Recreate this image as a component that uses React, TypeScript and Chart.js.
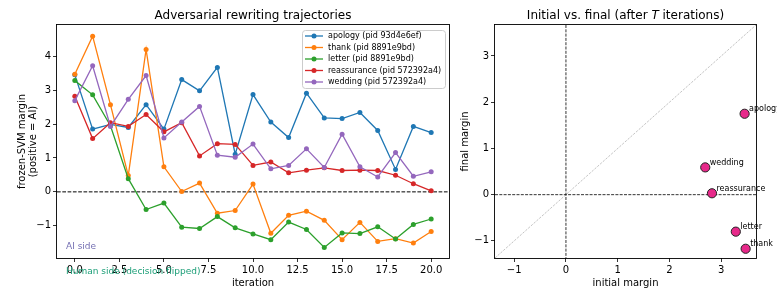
import React, { useEffect, useRef } from 'react';
import { Chart, registerables } from 'chart.js';
Chart.register(...registerables);

const FONT = '"DejaVu Sans", sans-serif';

const iterations = [0, 1, 2, 3, 4, 5, 6, 7, 8, 9, 10, 11, 12, 13, 14, 15, 16, 17, 18, 19, 20];
const names = ['apology', 'thank', 'letter', 'reassurance', 'wedding'];
const pids = ['93d4e6ef', '8891e9bd', '8891e9bd', '572392a4', '572392a4'];
const colors = ['#1f77b4', '#ff7f0e', '#2ca02c', '#d62728', '#9467bd'];

const apology = [3.45, 1.85, 1.99, 1.90, 2.57, 1.85, 3.31, 2.98, 3.67, 1.11, 2.87, 2.06, 1.60, 2.91, 2.18, 2.16, 2.34, 1.81, 0.66, 1.93, 1.75];
const thank = [3.47, 4.59, 2.57, 0.48, 4.20, 0.74, 0.01, 0.26, -0.63, -0.55, 0.23, -1.22, -0.69, -0.57, -0.84, -1.41, -0.90, -1.46, -1.38, -1.51, -1.17];
const letter = [3.28, 2.86, 1.95, 0.39, -0.52, -0.33, -1.04, -1.08, -0.73, -1.06, -1.24, -1.41, -0.89, -1.11, -1.64, -1.21, -1.23, -1.03, -1.39, -0.96, -0.80];
const reassurance = [2.82, 1.57, 2.04, 1.93, 2.28, 1.77, 2.04, 1.06, 1.42, 1.40, 0.78, 0.88, 0.56, 0.64, 0.71, 0.63, 0.64, 0.63, 0.49, 0.24, 0.03];
const wedding = [2.69, 3.72, 1.93, 2.73, 3.43, 1.59, 2.06, 2.52, 1.08, 1.02, 1.41, 0.68, 0.78, 1.27, 0.72, 1.70, 0.74, 0.44, 1.16, 0.46, 0.59];
const series = [apology, thank, letter, reassurance, wedding];

const leftXTicks = [0, 2.5, 5, 7.5, 10, 12.5, 15, 17.5, 20];
const leftYTicks = [-1, 0, 1, 2, 3, 4];
const rightTicks = [-1, 0, 1, 2, 3];

const initial = series.map((s) => s[0]);
const final = series.map((s) => s[s.length - 1]);
const allVals = [...initial, ...final];
const lo = Math.min(...allVals) - 0.2;
const hi = Math.max(...allVals) + 0.2;

const fmtMinus = (v: number, d = 0) => (v < 0 ? '\u2212' + Math.abs(v).toFixed(d) : v.toFixed(d));

const tickFont = { family: FONT, size: 10 };

function spines(ctx: CanvasRenderingContext2D, a: any) {
  ctx.save();
  ctx.strokeStyle = '#000';
  ctx.lineWidth = 0.9;
  ctx.setLineDash([]);
  ctx.strokeRect(Math.round(a.left) - 0.5, Math.round(a.top) - 0.5, Math.round(a.right - a.left) + 1, Math.round(a.bottom - a.top) + 1);
  ctx.restore();
}

const leftPlugin = {
  id: 'leftDecor',
  beforeDatasetsDraw(chart: any) {
    const { ctx, chartArea: a, scales } = chart;
    const py = scales.y.getPixelForValue(0);
    ctx.save();
    ctx.strokeStyle = '#000';
    ctx.lineWidth = 1;
    ctx.setLineDash([3.7, 1.6]);
    ctx.beginPath();
    ctx.moveTo(a.left, py);
    ctx.lineTo(a.right, py);
    ctx.stroke();
    ctx.restore();
  },
  afterDatasetsDraw(chart: any) {
    const { ctx, chartArea: a } = chart;
    const bw = 143, bh = 58;
    const bx = a.right - bw - 4, by = a.top + 5;
    ctx.save();
    ctx.beginPath();
    (ctx as any).roundRect(bx + 0.5, by + 0.5, bw, bh, 3);
    ctx.fillStyle = 'rgba(255,255,255,0.8)';
    ctx.fill();
    ctx.strokeStyle = '#cccccc';
    ctx.lineWidth = 1;
    ctx.stroke();
    ctx.font = `8px ${FONT}`;
    ctx.textBaseline = 'middle';
    ctx.textAlign = 'left';
    names.forEach((n, i) => {
      const yy = by + 6 + i * 11.5;
      ctx.strokeStyle = colors[i];
      ctx.lineWidth = 1.3;
      ctx.beginPath();
      ctx.moveTo(bx + 3, yy);
      ctx.lineTo(bx + 21, yy);
      ctx.stroke();
      ctx.fillStyle = colors[i];
      ctx.beginPath();
      ctx.arc(bx + 12, yy, 2.5, 0, Math.PI * 2);
      ctx.fill();
      ctx.fillStyle = '#000';
      ctx.fillText(`${n} (pid ${pids[i]})`, bx + 26, yy);
    });
    ctx.restore();
  },
  afterDraw(chart: any) {
    const { ctx, chartArea: a } = chart;
    spines(ctx, a);
    ctx.save();
    ctx.fillStyle = '#000';
    ctx.font = `12px ${FONT}`;
    ctx.textAlign = 'center';
    ctx.textBaseline = 'alphabetic';
    ctx.fillText('Adversarial rewriting trajectories', (a.left + a.right) / 2, 19);
    ctx.font = `9px ${FONT}`;
    ctx.textAlign = 'left';
    ctx.fillStyle = '#7570b3';
    ctx.fillText('AI side', a.left + 9, a.bottom - 9);
    ctx.fillStyle = '#1b9e77';
    ctx.fillText('Human side (decision flipped)', a.left + 9, a.bottom + 16);
    ctx.restore();
  },
};

const rightPlugin = {
  id: 'rightDecor',
  beforeDatasetsDraw(chart: any) {
    const { ctx, chartArea: a, scales } = chart;
    const { x, y } = scales;
    ctx.save();
    ctx.beginPath();
    ctx.rect(a.left, a.top, a.right - a.left, a.bottom - a.top);
    ctx.clip();
    ctx.strokeStyle = '#808080';
    ctx.lineWidth = 0.8;
    ctx.setLineDash([0.8, 1.3]);
    ctx.beginPath();
    ctx.moveTo(x.getPixelForValue(lo), y.getPixelForValue(lo));
    ctx.lineTo(x.getPixelForValue(hi), y.getPixelForValue(hi));
    ctx.stroke();
    ctx.strokeStyle = '#000';
    ctx.setLineDash([3, 1.3]);
    const px = x.getPixelForValue(0);
    const py = y.getPixelForValue(0);
    ctx.beginPath();
    ctx.moveTo(px, a.top);
    ctx.lineTo(px, a.bottom);
    ctx.moveTo(a.left, py);
    ctx.lineTo(a.right, py);
    ctx.stroke();
    ctx.restore();
  },
  afterDatasetsDraw(chart: any) {
    const { ctx, scales } = chart;
    ctx.save();
    ctx.font = `8px ${FONT}`;
    ctx.fillStyle = '#000';
    ctx.textAlign = 'left';
    ctx.textBaseline = 'alphabetic';
    names.forEach((n, i) => {
      const px = scales.x.getPixelForValue(initial[i]);
      const py = scales.y.getPixelForValue(final[i]);
      ctx.fillText(n, px + 4.5, py - 2.5);
    });
    ctx.restore();
  },
  afterDraw(chart: any) {
    const { ctx, chartArea: a } = chart;
    spines(ctx, a);
    ctx.save();
    ctx.fillStyle = '#000';
    ctx.textBaseline = 'alphabetic';
    ctx.textAlign = 'left';
    const p1 = 'Initial vs. final (after ';
    const p2 = 'T';
    const p3 = ' iterations)';
    const nf = `12px ${FONT}`;
    const itf = `italic 12px ${FONT}`;
    ctx.font = nf;
    const w1 = ctx.measureText(p1).width;
    const w3 = ctx.measureText(p3).width;
    ctx.font = itf;
    const w2 = ctx.measureText(p2).width;
    let sx = (a.left + a.right) / 2 - (w1 + w2 + w3) / 2;
    ctx.font = nf;
    ctx.fillText(p1, sx, 19);
    sx += w1;
    ctx.font = itf;
    ctx.fillText(p2, sx, 19);
    sx += w2;
    ctx.font = nf;
    ctx.fillText(p3, sx, 19);
    ctx.restore();
  },
};

function axisCommon(ticks: number[], decimals: number) {
  return {
    type: 'linear' as const,
    afterBuildTicks: (s: any) => {
      s.ticks = ticks.map((v) => ({ value: v }));
    },
    ticks: {
      font: tickFont,
      color: '#000',
      padding: 2,
      maxRotation: 0,
      autoSkip: false,
      callback: (v: any) => fmtMinus(Number(v), decimals),
    },
    grid: { drawOnChartArea: false, drawTicks: true, tickLength: 4, color: '#000', lineWidth: 0.8 },
    border: { display: false },
  };
}

export default function App() {
  const r1 = useRef<HTMLCanvasElement>(null);
  const r2 = useRef<HTMLCanvasElement>(null);

  useEffect(() => {
    const c1 = new Chart(r1.current!, {
      type: 'line',
      data: {
        datasets: series.map((s, i) => ({
          label: `${names[i]} (pid ${pids[i]})`,
          data: iterations.map((it, j) => ({ x: it, y: s[j] })),
          borderColor: colors[i],
          backgroundColor: colors[i],
          pointBackgroundColor: colors[i],
          pointBorderWidth: 0,
          pointRadius: 2.5,
          borderWidth: 1.3,
          tension: 0,
          order: 5 - i,
        })),
      },
      options: {
        responsive: false,
        animation: false,
        devicePixelRatio: 1,
        layout: { padding: { left: 0, right: 6, top: 25, bottom: 0 } },
        plugins: { legend: { display: false }, tooltip: { enabled: false }, title: { display: false } },
        scales: {
          x: {
            ...axisCommon(leftXTicks, 1),
            min: -1,
            max: 21,
            title: { display: true, text: 'iteration', font: tickFont, color: '#000', padding: { top: 0, bottom: 1 } },
            afterFit: (s: any) => { s.height = 32; },
          },
          y: {
            ...axisCommon(leftYTicks, 0),
            min: -1.95,
            max: 4.92,
            title: {
              display: true,
              text: ['frozen-SVM margin', '(positive = AI)'],
              font: { family: FONT, size: 10, lineHeight: 1.1 },
              color: '#000',
              padding: { top: 16.5, bottom: 0 },
            },
            afterFit: (s: any) => { s.width = 57; },
          },
        },
      } as any,
      plugins: [leftPlugin],
    });

    const c2 = new Chart(r2.current!, {
      type: 'scatter',
      data: {
        datasets: [
          {
            label: 'points',
            data: names.map((n, i) => ({ x: initial[i], y: final[i] })),
            pointBackgroundColor: '#e7298a',
            pointBorderColor: '#222',
            pointBorderWidth: 1,
            pointRadius: 4.6,
          },
        ],
      },
      options: {
        responsive: false,
        animation: false,
        devicePixelRatio: 1,
        layout: { padding: { left: 0, right: 21, top: 25, bottom: 0 } },
        plugins: { legend: { display: false }, tooltip: { enabled: false }, title: { display: false } },
        scales: {
          x: {
            ...axisCommon(rightTicks, 0),
            min: lo,
            max: hi,
            title: { display: true, text: 'initial margin', font: tickFont, color: '#000', padding: { top: 0, bottom: 1 } },
            afterFit: (s: any) => { s.height = 32; },
          },
          y: {
            ...axisCommon(rightTicks, 0),
            min: lo,
            max: hi,
            title: { display: true, text: 'final margin', font: tickFont, color: '#000', padding: { top: 4, bottom: 0 } },
            afterFit: (s: any) => { s.width = 40; },
          },
        },
      } as any,
      plugins: [rightPlugin],
    });

    return () => {
      c1.destroy();
      c2.destroy();
    };
  }, []);

  return (
    <div style={{ position: 'fixed', left: 0, top: 0, width: 777, height: 290, background: '#fff' }}>
      <canvas ref={r1} width={455} height={290} style={{ position: 'absolute', left: 0, top: 0, width: 455, height: 290 }} />
      <canvas ref={r2} width={322} height={290} style={{ position: 'absolute', left: 455, top: 0, width: 322, height: 290 }} />
    </div>
  );
}
